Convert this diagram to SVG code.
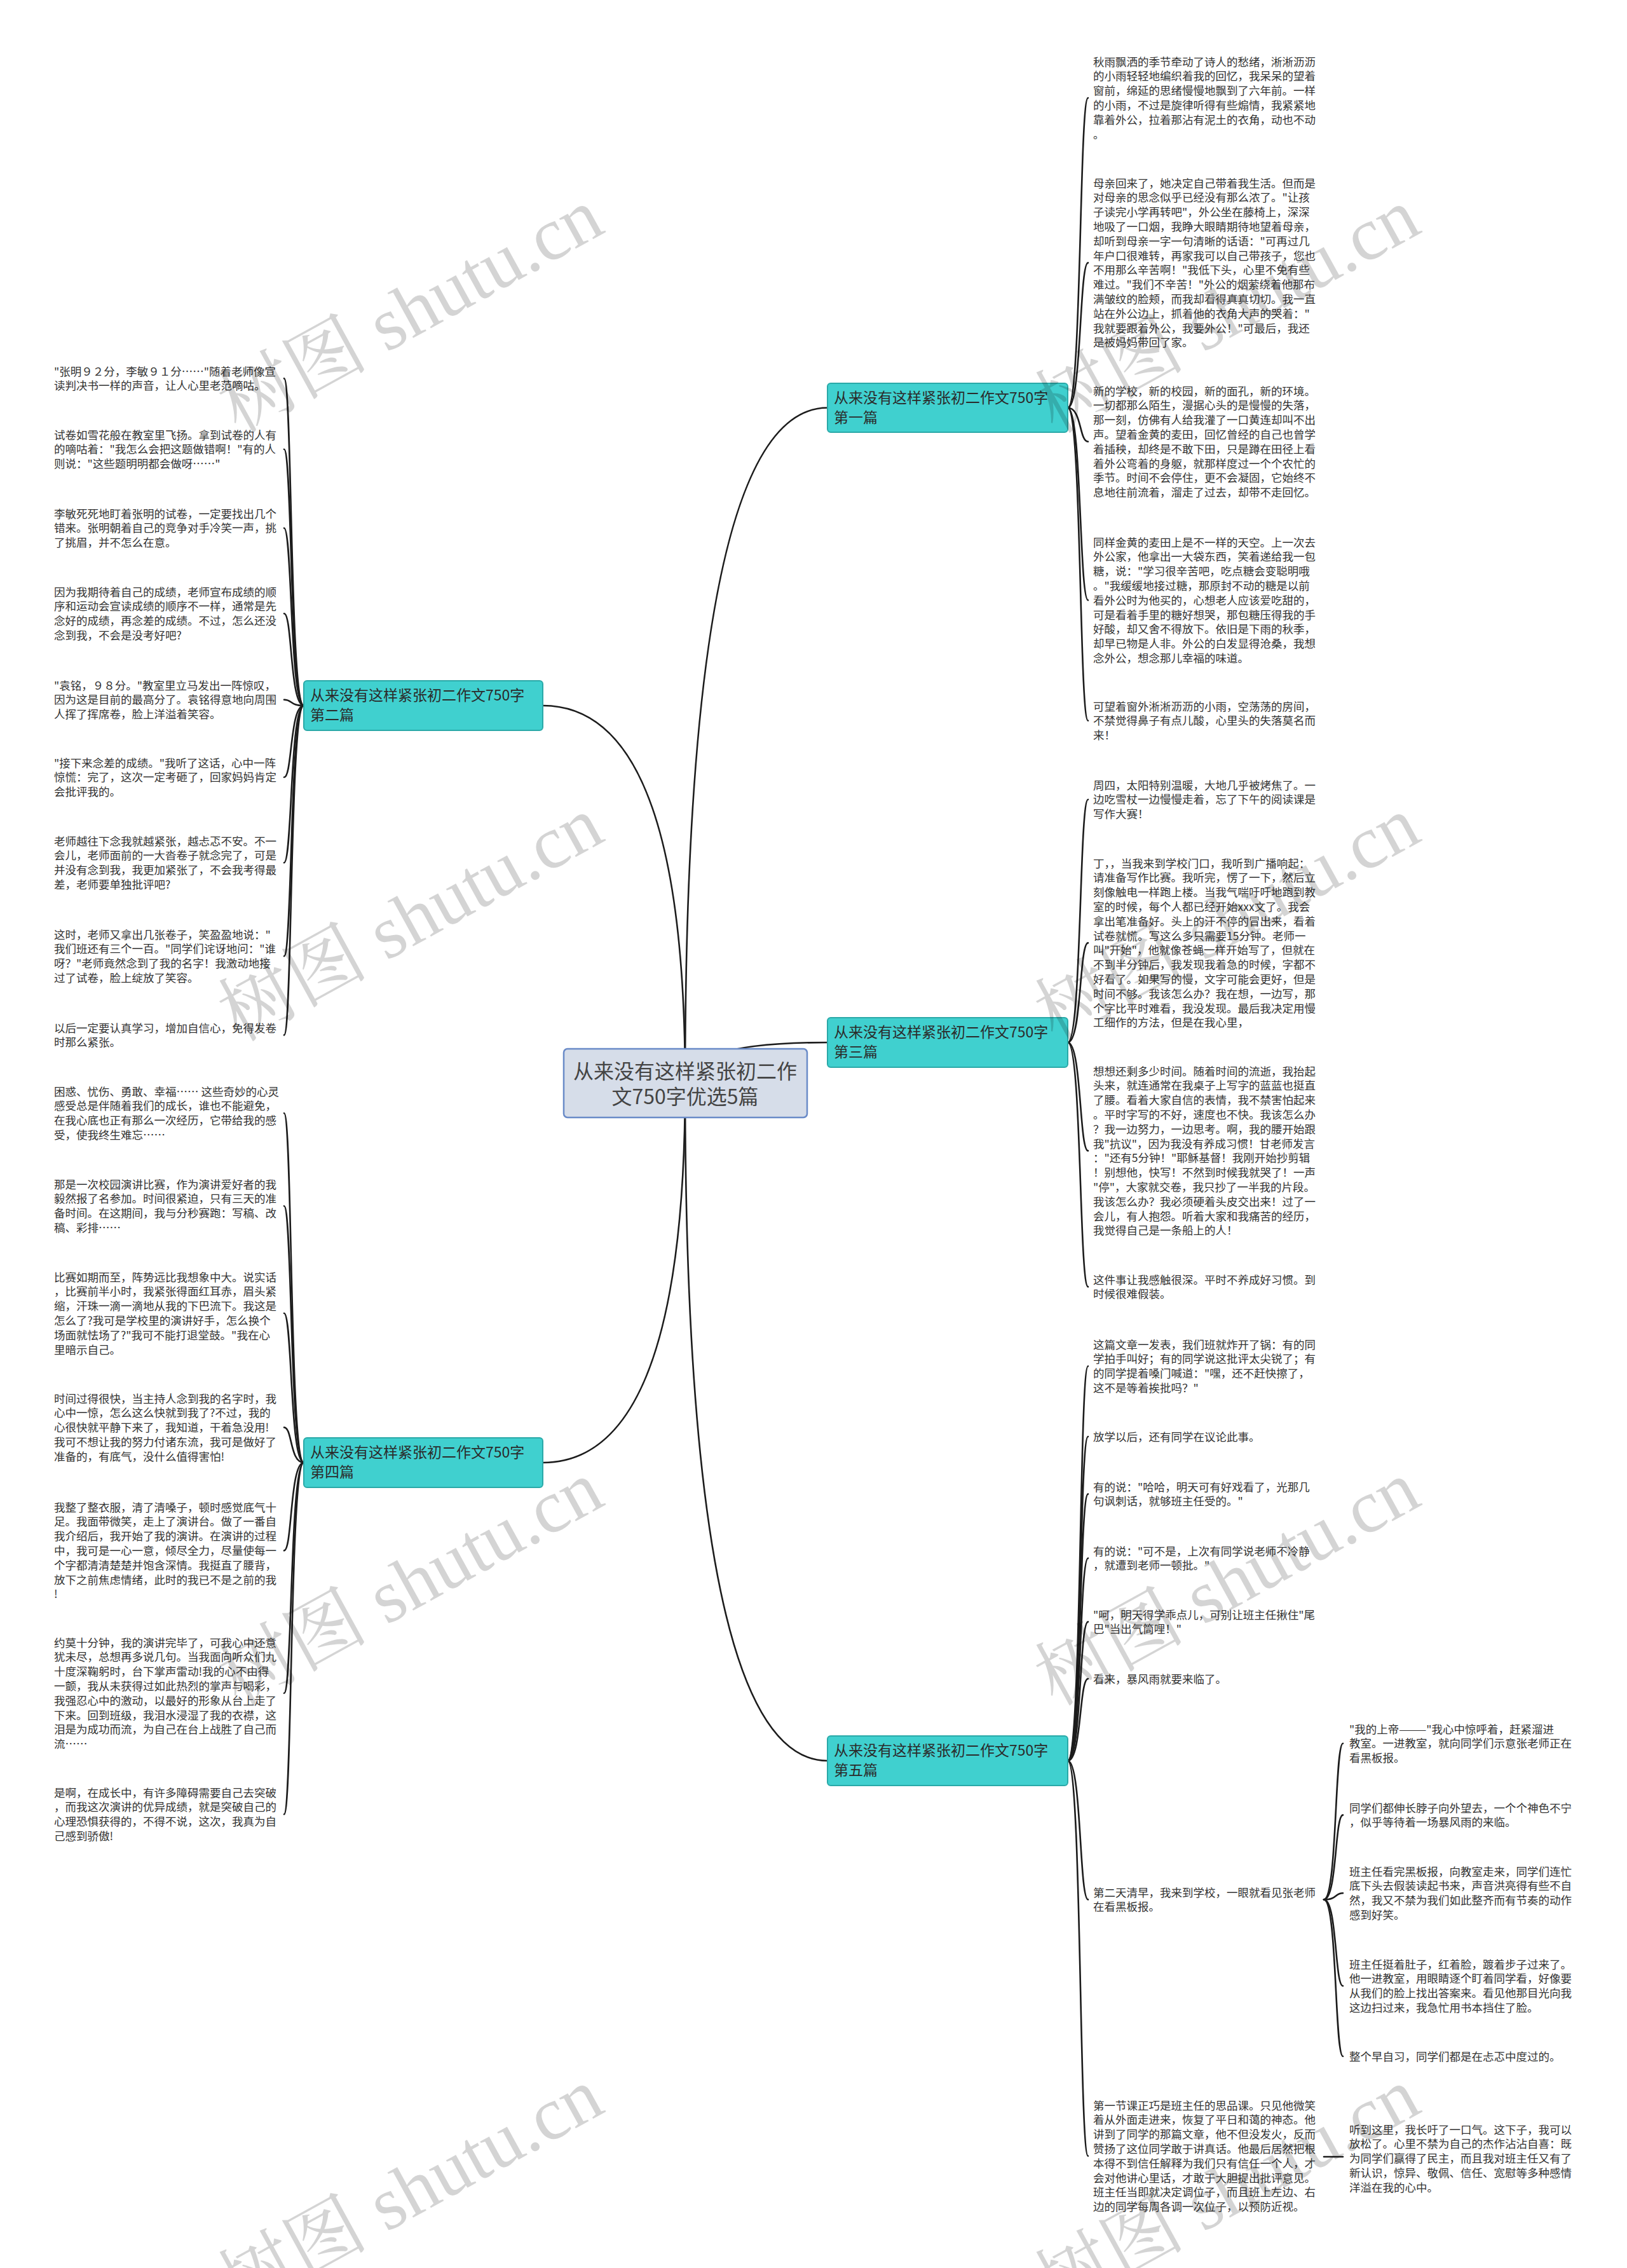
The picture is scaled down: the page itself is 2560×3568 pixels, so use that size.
<svg xmlns="http://www.w3.org/2000/svg" width="2560" height="3568" viewBox="0 0 2560 3568">
<style>
.c{fill:none;stroke:#1c1c1c;stroke-width:2.6;stroke-linecap:round}
.lf{font-family:"Noto Sans CJK SC","Noto Sans",sans-serif;font-size:17.5px;fill:#333}
.br rect{fill:#40d0cf;stroke:#2aa9a8;stroke-width:2}
.br text{font-family:"Noto Sans CJK SC","Noto Sans",sans-serif;font-size:23px;fill:#2b2b2b}
.ct rect{fill:#d6dde9;stroke:#6a8bc8;stroke-width:2.5}
.ct text{font-family:"Noto Sans CJK SC","Noto Sans",sans-serif;font-size:32px;fill:#444;text-anchor:middle}
.wm{font-family:"Liberation Serif","Noto Serif CJK SC","Noto Sans CJK SC",serif;font-size:118px;fill:#000;fill-opacity:0.17}
</style>
<rect width="2560" height="3568" fill="#ffffff"/>

<g id="connectors">
<path class="c" d="M1078 1705 Q1078 641.5 1302 641.5"/>
<path class="c" d="M1078 1705 Q1078 1640 1302 1640"/>
<path class="c" d="M1078 1705 Q1078 2770 1302 2770"/>
<path class="c" d="M1078 1705 Q1078 1110 854 1110"/>
<path class="c" d="M1078 1705 Q1078 2301 854 2301"/>
<!-- branch 1 -->
<path class="c" d="M1680 641.5 C1702 641.5 1698 154 1712 154"/>
<path class="c" d="M1680 641.5 C1702 641.5 1698 413.4 1712 413.4"/>
<path class="c" d="M1680 641.5 C1702 641.5 1698 694.8 1712 694.8"/>
<path class="c" d="M1680 641.5 C1702 641.5 1698 944.2 1712 944.2"/>
<path class="c" d="M1680 641.5 C1702 641.5 1698 1133.8 1712 1133.8"/>
<!-- branch 3 -->
<path class="c" d="M1680 1640 C1702 1640 1698 1257.8 1712 1257.8"/>
<path class="c" d="M1680 1640 C1702 1640 1698 1483.4 1712 1483.4"/>
<path class="c" d="M1680 1640 C1702 1640 1698 1810.4 1712 1810.4"/>
<path class="c" d="M1680 1640 C1702 1640 1698 2024.4 1712 2024.4"/>
<!-- branch 5 -->
<path class="c" d="M1680 2770 C1702 2770 1698 2149.2 1712 2149.2"/>
<path class="c" d="M1680 2770 C1702 2770 1698 2260 1712 2260"/>
<path class="c" d="M1680 2770 C1702 2770 1698 2350.4 1712 2350.4"/>
<path class="c" d="M1680 2770 C1702 2770 1698 2451.4 1712 2451.4"/>
<path class="c" d="M1680 2770 C1702 2770 1698 2551.4 1712 2551.4"/>
<path class="c" d="M1680 2770 C1702 2770 1698 2641 1712 2641"/>
<path class="c" d="M1680 2770 C1702 2770 1698 2988.4 1712 2988.4"/>
<path class="c" d="M1680 2770 C1702 2770 1698 3391.8 1712 3391.8"/>
<!-- sub children -->
<path class="c" d="M2083 2988.4 C2104 2988.4 2100 2742.8 2113 2742.8"/>
<path class="c" d="M2083 2988.4 C2104 2988.4 2100 2855.4 2113 2855.4"/>
<path class="c" d="M2083 2988.4 C2104 2988.4 2100 2978.2 2113 2978.2"/>
<path class="c" d="M2083 2988.4 C2104 2988.4 2100 3124.2 2113 3124.2"/>
<path class="c" d="M2083 2988.4 C2104 2988.4 2100 3235 2113 3235"/>
<path class="c" d="M2083 3393 L2113 3393"/>
<!-- branch 2 -->
<path class="c" d="M478 1110 C456 1110 460 595.4 447 595.4"/>
<path class="c" d="M478 1110 C456 1110 460 706.8 447 706.8"/>
<path class="c" d="M478 1110 C456 1110 460 830.8 447 830.8"/>
<path class="c" d="M478 1110 C456 1110 460 965.2 447 965.2"/>
<path class="c" d="M478 1110 C456 1110 460 1100.8 447 1100.8"/>
<path class="c" d="M478 1110 C456 1110 460 1222.8 447 1222.8"/>
<path class="c" d="M478 1110 C456 1110 460 1357.2 447 1357.2"/>
<path class="c" d="M478 1110 C456 1110 460 1504.2 447 1504.2"/>
<path class="c" d="M478 1110 C456 1110 460 1628.4 447 1628.4"/>
<!-- branch 4 -->
<path class="c" d="M478 2301 C456 2301 460 1751.2 447 1751.2"/>
<path class="c" d="M478 2301 C456 2301 460 1897.2 447 1897.2"/>
<path class="c" d="M478 2301 C456 2301 460 2066 447 2066"/>
<path class="c" d="M478 2301 C456 2301 460 2245.6 447 2245.6"/>
<path class="c" d="M478 2301 C456 2301 460 2439.4 447 2439.4"/>
<path class="c" d="M478 2301 C456 2301 460 2663.8 447 2663.8"/>
<path class="c" d="M478 2301 C456 2301 460 2854.2 447 2854.2"/>
</g>

<g id="center" class="ct">
<rect x="887" y="1650" width="383" height="108" rx="6"/>
<text><tspan x="1078" y="1697">从来没有这样紧张初二作</tspan><tspan x="1078" y="1737">文750字优选5篇</tspan></text>
</g>

<g id="branch1" class="br">
<rect x="1302" y="603" width="378" height="77" rx="5"/>
<text><tspan x="1312" y="634">从来没有这样紧张初二作文750字</tspan><tspan x="1312" y="665">第一篇</tspan></text>
</g>
<g id="branch2" class="br">
<rect x="478" y="1071" width="376" height="78" rx="5"/>
<text><tspan x="488" y="1102">从来没有这样紧张初二作文750字</tspan><tspan x="488" y="1133">第二篇</tspan></text>
</g>
<g id="branch3" class="br">
<rect x="1302" y="1601" width="378" height="78" rx="5"/>
<text><tspan x="1312" y="1632">从来没有这样紧张初二作文750字</tspan><tspan x="1312" y="1663">第三篇</tspan></text>
</g>
<g id="branch4" class="br">
<rect x="478" y="2262" width="376" height="78" rx="5"/>
<text><tspan x="488" y="2293">从来没有这样紧张初二作文750字</tspan><tspan x="488" y="2324">第四篇</tspan></text>
</g>
<g id="branch5" class="br">
<rect x="1302" y="2731" width="378" height="78" rx="5"/>
<text><tspan x="1312" y="2762">从来没有这样紧张初二作文750字</tspan><tspan x="1312" y="2793">第五篇</tspan></text>
</g>

<g id="leaf-1-1"><text class="lf"><tspan x="1720" y="103.5">秋雨飘洒的季节牵动了诗人的愁绪，淅淅沥沥</tspan><tspan x="1720" y="126.3">的小雨轻轻地编织着我的回忆，我呆呆的望着</tspan><tspan x="1720" y="149.1">窗前，绵延的思绪慢慢地飘到了六年前。一样</tspan><tspan x="1720" y="171.9">的小雨，不过是旋律听得有些煽情，我紧紧地</tspan><tspan x="1720" y="194.7">靠着外公，拉着那沾有泥土的衣角，动也不动</tspan><tspan x="1720" y="217.5">。</tspan></text></g>
<g id="leaf-1-2"><text class="lf"><tspan x="1720" y="294.5">母亲回来了，她决定自己带着我生活。但而是</tspan><tspan x="1720" y="317.3">对母亲的思念似乎已经没有那么浓了。"让孩</tspan><tspan x="1720" y="340.1">子读完小学再转吧"，外公坐在藤椅上，深深</tspan><tspan x="1720" y="362.9">地吸了一口烟，我睁大眼睛期待地望着母亲，</tspan><tspan x="1720" y="385.7">却听到母亲一字一句清晰的话语："可再过几</tspan><tspan x="1720" y="408.5">年户口很难转，再家我可以自己带孩子，您也</tspan><tspan x="1720" y="431.3">不用那么辛苦啊！"我低下头，心里不免有些</tspan><tspan x="1720" y="454.1">难过。"我们不辛苦！"外公的烟萦绕着他那布</tspan><tspan x="1720" y="476.9">满皱纹的脸颊，而我却看得真真切切。我一直</tspan><tspan x="1720" y="499.7">站在外公边上，抓着他的衣角大声的哭着："</tspan><tspan x="1720" y="522.5">我就要跟着外公，我要外公！"可最后，我还</tspan><tspan x="1720" y="545.3">是被妈妈带回了家。</tspan></text></g>
<g id="leaf-1-3"><text class="lf"><tspan x="1720" y="621.5">新的学校，新的校园，新的面孔，新的环境。</tspan><tspan x="1720" y="644.3">一切都那么陌生，漫据心头的是慢慢的失落，</tspan><tspan x="1720" y="667.1">那一刻，仿佛有人给我灌了一口黄连却叫不出</tspan><tspan x="1720" y="689.9">声。望着金黄的麦田，回忆曾经的自己也曾学</tspan><tspan x="1720" y="712.7">着插秧，却终是不敢下田，只是蹲在田径上看</tspan><tspan x="1720" y="735.5">着外公弯着的身躯，就那样度过一个个农忙的</tspan><tspan x="1720" y="758.3">季节。时间不会停住，更不会凝固，它始终不</tspan><tspan x="1720" y="781.1">息地往前流着，溜走了过去，却带不走回忆。</tspan></text></g>
<g id="leaf-1-4"><text class="lf"><tspan x="1720" y="859.5">同样金黄的麦田上是不一样的天空。上一次去</tspan><tspan x="1720" y="882.3">外公家，他拿出一大袋东西，笑着递给我一包</tspan><tspan x="1720" y="905.1">糖，说："学习很辛苦吧，吃点糖会变聪明哦</tspan><tspan x="1720" y="927.9">。"我缓缓地接过糖，那原封不动的糖是以前</tspan><tspan x="1720" y="950.7">看外公时为他买的，心想老人应该爱吃甜的，</tspan><tspan x="1720" y="973.5">可是看着手里的糖好想哭，那包糖压得我的手</tspan><tspan x="1720" y="996.3">好酸，却又舍不得放下。依旧是下雨的秋季，</tspan><tspan x="1720" y="1019.1">却早已物是人非。外公的白发显得沧桑，我想</tspan><tspan x="1720" y="1041.9">念外公，想念那儿幸福的味道。</tspan></text></g>
<g id="leaf-1-5"><text class="lf"><tspan x="1720" y="1117.5">可望着窗外淅淅沥沥的小雨，空荡荡的房间，</tspan><tspan x="1720" y="1140.3">不禁觉得鼻子有点儿酸，心里头的失落莫名而</tspan><tspan x="1720" y="1163.1">来！</tspan></text></g>

<g id="leaf-3-1"><text class="lf"><tspan x="1720" y="1241.5">周四，太阳特别温暖，大地几乎被烤焦了。一</tspan><tspan x="1720" y="1264.3">边吃雪杖一边慢慢走着，忘了下午的阅读课是</tspan><tspan x="1720" y="1287.1">写作大赛！</tspan></text></g>
<g id="leaf-3-2"><text class="lf"><tspan x="1720" y="1364.5">丁，，当我来到学校门口，我听到广播响起：</tspan><tspan x="1720" y="1387.3">请准备写作比赛。我听完，愣了一下，然后立</tspan><tspan x="1720" y="1410.1">刻像触电一样跑上楼。当我气喘吁吁地跑到教</tspan><tspan x="1720" y="1432.9">室的时候，每个人都已经开始xxx文了。我会</tspan><tspan x="1720" y="1455.7">拿出笔准备好。头上的汗不停的冒出来，看着</tspan><tspan x="1720" y="1478.5">试卷就慌。写这么多只需要15分钟。老师一</tspan><tspan x="1720" y="1501.3">叫"开始"，他就像苍蝇一样开始写了，但就在</tspan><tspan x="1720" y="1524.1">不到半分钟后，我发现我着急的时候，字都不</tspan><tspan x="1720" y="1546.9">好看了。如果写的慢，文字可能会更好，但是</tspan><tspan x="1720" y="1569.7">时间不够。我该怎么办？我在想，一边写，那</tspan><tspan x="1720" y="1592.5">个字比平时难看，我没发现。最后我决定用慢</tspan><tspan x="1720" y="1615.3">工细作的方法，但是在我心里，</tspan></text></g>
<g id="leaf-3-3"><text class="lf"><tspan x="1720" y="1691.5">想想还剩多少时间。随着时间的流逝，我抬起</tspan><tspan x="1720" y="1714.3">头来，就连通常在我桌子上写字的蓝蓝也挺直</tspan><tspan x="1720" y="1737.1">了腰。看着大家自信的表情，我不禁害怕起来</tspan><tspan x="1720" y="1759.9">。平时字写的不好，速度也不快。我该怎么办</tspan><tspan x="1720" y="1782.7">？我一边努力，一边思考。啊，我的腰开始跟</tspan><tspan x="1720" y="1805.5">我"抗议"，因为我没有养成习惯！甘老师发言</tspan><tspan x="1720" y="1828.3">："还有5分钟！"耶稣基督！我刚开始抄剪辑</tspan><tspan x="1720" y="1851.1">！别想他，快写！不然到时候我就哭了！一声</tspan><tspan x="1720" y="1873.9">"停"，大家就交卷，我只抄了一半我的片段。</tspan><tspan x="1720" y="1896.7">我该怎么办？我必须硬着头皮交出来！过了一</tspan><tspan x="1720" y="1919.5">会儿，有人抱怨。听着大家和我痛苦的经历，</tspan><tspan x="1720" y="1942.3">我觉得自己是一条船上的人！</tspan></text></g>
<g id="leaf-3-4"><text class="lf"><tspan x="1720" y="2019.5">这件事让我感触很深。平时不养成好习惯。到</tspan><tspan x="1720" y="2042.3">时候很难假装。</tspan></text></g>

<g id="leaf-5-1"><text class="lf"><tspan x="1720" y="2121.5">这篇文章一发表，我们班就炸开了锅：有的同</tspan><tspan x="1720" y="2144.3">学拍手叫好；有的同学说这批评太尖锐了；有</tspan><tspan x="1720" y="2167.1">的同学提着嗓门喊道："嘿，还不赶快擦了，</tspan><tspan x="1720" y="2189.9">这不是等着挨批吗？"</tspan></text></g>
<g id="leaf-5-2"><text class="lf"><tspan x="1720" y="2266.5">放学以后，还有同学在议论此事。</tspan></text></g>
<g id="leaf-5-3"><text class="lf"><tspan x="1720" y="2345.5">有的说："哈哈，明天可有好戏看了，光那几</tspan><tspan x="1720" y="2368.3">句讽刺话，就够班主任受的。"</tspan></text></g>
<g id="leaf-5-4"><text class="lf"><tspan x="1720" y="2446.5">有的说："可不是，上次有同学说老师不冷静</tspan><tspan x="1720" y="2469.3">，就遭到老师一顿批。"</tspan></text></g>
<g id="leaf-5-5"><text class="lf"><tspan x="1720" y="2546.5">"呵，明天得学乖点儿，可别让班主任揪住"尾</tspan><tspan x="1720" y="2569.3">巴"当出气筒哩！"</tspan></text></g>
<g id="leaf-5-6"><text class="lf"><tspan x="1720" y="2647.5">看来，暴风雨就要来临了。</tspan></text></g>
<g id="leaf-5-7"><text class="lf"><tspan x="1720" y="2983.5">第二天清早，我来到学校，一眼就看见张老师</tspan><tspan x="1720" y="3006.3">在看黑板报。</tspan></text></g>
<g id="leaf-5-8"><text class="lf"><tspan x="1720" y="3318.5">第一节课正巧是班主任的思品课。只见他微笑</tspan><tspan x="1720" y="3341.3">着从外面走进来，恢复了平日和蔼的神态。他</tspan><tspan x="1720" y="3364.1">讲到了同学的那篇文章，他不但没发火，反而</tspan><tspan x="1720" y="3386.9">赞扬了这位同学敢于讲真话。他最后居然把根</tspan><tspan x="1720" y="3409.7">本得不到信任解释为我们只有信任一个人，才</tspan><tspan x="1720" y="3432.5">会对他讲心里话，才敢于大胆提出批评意见。</tspan><tspan x="1720" y="3455.3">班主任当即就决定调位子，而且班上左边、右</tspan><tspan x="1720" y="3478.1">边的同学每周各调一次位子，以预防近视。</tspan></text></g>

<g id="leaf-5-7-1"><text class="lf"><tspan x="2123" y="2726.5">"我的上帝———"我心中惊呼着，赶紧溜进</tspan><tspan x="2123" y="2749.3">教室。一进教室，就向同学们示意张老师正在</tspan><tspan x="2123" y="2772.1">看黑板报。</tspan></text></g>
<g id="leaf-5-7-2"><text class="lf"><tspan x="2123" y="2850.5">同学们都伸长脖子向外望去，一个个神色不宁</tspan><tspan x="2123" y="2873.3">，似乎等待着一场暴风雨的来临。</tspan></text></g>
<g id="leaf-5-7-3"><text class="lf"><tspan x="2123" y="2950.5">班主任看完黑板报，向教室走来，同学们连忙</tspan><tspan x="2123" y="2973.3">底下头去假装读起书来，声音洪亮得有些不自</tspan><tspan x="2123" y="2996.1">然，我又不禁为我们如此整齐而有节奏的动作</tspan><tspan x="2123" y="3018.9">感到好笑。</tspan></text></g>
<g id="leaf-5-7-4"><text class="lf"><tspan x="2123" y="3096.5">班主任挺着肚子，红着脸，踱着步子过来了。</tspan><tspan x="2123" y="3119.3">他一进教室，用眼睛逐个盯着同学看，好像要</tspan><tspan x="2123" y="3142.1">从我们的脸上找出答案来。看见他那目光向我</tspan><tspan x="2123" y="3164.9">这边扫过来，我急忙用书本挡住了脸。</tspan></text></g>
<g id="leaf-5-7-5"><text class="lf"><tspan x="2123" y="3241.5">整个早自习，同学们都是在忐忑中度过的。</tspan></text></g>
<g id="leaf-5-8-1"><text class="lf"><tspan x="2123" y="3356.5">听到这里，我长吁了一口气。这下子，我可以</tspan><tspan x="2123" y="3379.3">放松了。心里不禁为自己的杰作沾沾自喜：既</tspan><tspan x="2123" y="3402.1">为同学们赢得了民主，而且我对班主任又有了</tspan><tspan x="2123" y="3424.9">新认识，惊异、敬佩、信任、宽慰等多种感情</tspan><tspan x="2123" y="3447.7">洋溢在我的心中。</tspan></text></g>

<g id="leaf-2-1"><text class="lf"><tspan x="85" y="590.5">"张明９２分，李敏９１分……"随着老师像宣</tspan><tspan x="85" y="613.3">读判决书一样的声音，让人心里老范嘀咕。</tspan></text></g>
<g id="leaf-2-2"><text class="lf"><tspan x="85" y="690.5">试卷如雪花般在教室里飞扬。拿到试卷的人有</tspan><tspan x="85" y="713.3">的嘀咕着："我怎么会把这题做错啊！"有的人</tspan><tspan x="85" y="736.1">则说："这些题明明都会做呀……"</tspan></text></g>
<g id="leaf-2-3"><text class="lf"><tspan x="85" y="814.5">李敏死死地盯着张明的试卷，一定要找出几个</tspan><tspan x="85" y="837.3">错来。张明朝着自己的竞争对手冷笑一声，挑</tspan><tspan x="85" y="860.1">了挑眉，并不怎么在意。</tspan></text></g>
<g id="leaf-2-4"><text class="lf"><tspan x="85" y="937.5">因为我期待着自己的成绩，老师宣布成绩的顺</tspan><tspan x="85" y="960.3">序和运动会宣读成绩的顺序不一样，通常是先</tspan><tspan x="85" y="983.1">念好的成绩，再念差的成绩。不过，怎么还没</tspan><tspan x="85" y="1005.9">念到我，不会是没考好吧?</tspan></text></g>
<g id="leaf-2-5"><text class="lf"><tspan x="85" y="1084.5">"袁铭，９８分。"教室里立马发出一阵惊叹，</tspan><tspan x="85" y="1107.3">因为这是目前的最高分了。袁铭得意地向周围</tspan><tspan x="85" y="1130.1">人挥了挥席卷，脸上洋溢着笑容。</tspan></text></g>
<g id="leaf-2-6"><text class="lf"><tspan x="85" y="1206.5">"接下来念差的成绩。"我听了这话，心中一阵</tspan><tspan x="85" y="1229.3">惊慌：完了，这次一定考砸了，回家妈妈肯定</tspan><tspan x="85" y="1252.1">会批评我的。</tspan></text></g>
<g id="leaf-2-7"><text class="lf"><tspan x="85" y="1329.5">老师越往下念我就越紧张，越忐忑不安。不一</tspan><tspan x="85" y="1352.3">会儿，老师面前的一大沓卷子就念完了，可是</tspan><tspan x="85" y="1375.1">并没有念到我，我更加紧张了，不会我考得最</tspan><tspan x="85" y="1397.9">差，老师要单独批评吧?</tspan></text></g>
<g id="leaf-2-8"><text class="lf"><tspan x="85" y="1476.5">这时，老师又拿出几张卷子，笑盈盈地说："</tspan><tspan x="85" y="1499.3">我们班还有三个一百。"同学们诧讶地问："谁</tspan><tspan x="85" y="1522.1">呀？"老师竟然念到了我的名字！我激动地接</tspan><tspan x="85" y="1544.9">过了试卷，脸上绽放了笑容。</tspan></text></g>
<g id="leaf-2-9"><text class="lf"><tspan x="85" y="1623.5">以后一定要认真学习，增加自信心，免得发卷</tspan><tspan x="85" y="1646.3">时那么紧张。</tspan></text></g>

<g id="leaf-4-1"><text class="lf"><tspan x="85" y="1723.5">困惑、忧伤、勇敢、幸福…… 这些奇妙的心灵</tspan><tspan x="85" y="1746.3">感受总是伴随着我们的成长，谁也不能避免，</tspan><tspan x="85" y="1769.1">在我心底也正有那么一次经历，它带给我的感</tspan><tspan x="85" y="1791.9">受，使我终生难忘……</tspan></text></g>
<g id="leaf-4-2"><text class="lf"><tspan x="85" y="1869.5">那是一次校园演讲比赛，作为演讲爱好者的我</tspan><tspan x="85" y="1892.3">毅然报了名参加。时间很紧迫，只有三天的准</tspan><tspan x="85" y="1915.1">备时间。在这期间，我与分秒赛跑：写稿、改</tspan><tspan x="85" y="1937.9">稿、彩排……</tspan></text></g>
<g id="leaf-4-3"><text class="lf"><tspan x="85" y="2015.5">比赛如期而至，阵势远比我想象中大。说实话</tspan><tspan x="85" y="2038.3">，比赛前半小时，我紧张得面红耳赤，眉头紧</tspan><tspan x="85" y="2061.1">缩，汗珠一滴一滴地从我的下巴流下。我这是</tspan><tspan x="85" y="2083.9">怎么了?我可是学校里的演讲好手，怎么换个</tspan><tspan x="85" y="2106.7">场面就怯场了?"我可不能打退堂鼓。"我在心</tspan><tspan x="85" y="2129.5">里暗示自己。</tspan></text></g>
<g id="leaf-4-4"><text class="lf"><tspan x="85" y="2206.5">时间过得很快，当主持人念到我的名字时，我</tspan><tspan x="85" y="2229.3">心中一惊，怎么这么快就到我了?不过，我的</tspan><tspan x="85" y="2252.1">心很快就平静下来了，我知道，干着急没用!</tspan><tspan x="85" y="2274.9">我可不想让我的努力付诸东流，我可是做好了</tspan><tspan x="85" y="2297.7">准备的，有底气，没什么值得害怕!</tspan></text></g>
<g id="leaf-4-5"><text class="lf"><tspan x="85" y="2377.5">我整了整衣服，清了清嗓子，顿时感觉底气十</tspan><tspan x="85" y="2400.3">足。我面带微笑，走上了演讲台。做了一番自</tspan><tspan x="85" y="2423.1">我介绍后，我开始了我的演讲。在演讲的过程</tspan><tspan x="85" y="2445.9">中，我可是一心一意，倾尽全力，尽量使每一</tspan><tspan x="85" y="2468.7">个字都清清楚楚并饱含深情。我挺直了腰背，</tspan><tspan x="85" y="2491.5">放下之前焦虑情绪，此时的我已不是之前的我</tspan><tspan x="85" y="2514.3">!</tspan></text></g>
<g id="leaf-4-6"><text class="lf"><tspan x="85" y="2590.5">约莫十分钟，我的演讲完毕了，可我心中还意</tspan><tspan x="85" y="2613.3">犹未尽，总想再多说几句。当我面向听众们九</tspan><tspan x="85" y="2636.1">十度深鞠躬时，台下掌声雷动!我的心不由得</tspan><tspan x="85" y="2658.9">一颤，我从未获得过如此热烈的掌声与喝彩，</tspan><tspan x="85" y="2681.7">我强忍心中的激动，以最好的形象从台上走了</tspan><tspan x="85" y="2704.5">下来。回到班级，我泪水浸湿了我的衣襟，这</tspan><tspan x="85" y="2727.3">泪是为成功而流，为自己在台上战胜了自己而</tspan><tspan x="85" y="2750.1">流……</tspan></text></g>
<g id="leaf-4-7"><text class="lf"><tspan x="85" y="2826.5">是啊，在成长中，有许多障碍需要自己去突破</tspan><tspan x="85" y="2849.3">，而我这次演讲的优异成绩，就是突破自己的</tspan><tspan x="85" y="2872.1">心理恐惧获得的，不得不说，这次，我真为自</tspan><tspan x="85" y="2894.9">己感到骄傲!</tspan></text></g>

<g id="watermarks">
<text class="wm" transform="translate(375 683) rotate(-28.8)">树图 shutu.cn</text>
<text class="wm" transform="translate(1660 683) rotate(-28.8)">树图 shutu.cn</text>
<text class="wm" transform="translate(375 1640) rotate(-28.8)">树图 shutu.cn</text>
<text class="wm" transform="translate(1660 1640) rotate(-28.8)">树图 shutu.cn</text>
<text class="wm" transform="translate(375 2685) rotate(-28.8)">树图 shutu.cn</text>
<text class="wm" transform="translate(1660 2685) rotate(-28.8)">树图 shutu.cn</text>
<text class="wm" transform="translate(375 3640) rotate(-28.8)">树图 shutu.cn</text>
<text class="wm" transform="translate(1660 3640) rotate(-28.8)">树图 shutu.cn</text>
</g>
</svg>
